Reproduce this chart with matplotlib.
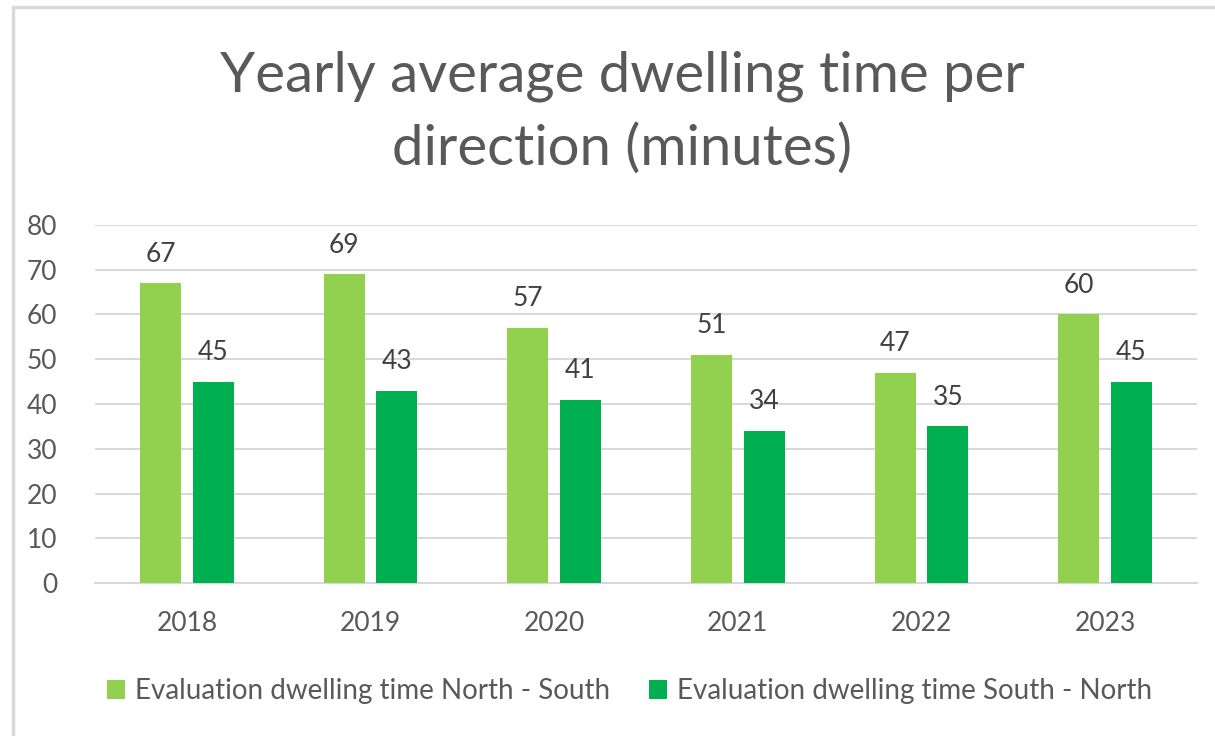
import matplotlib.pyplot as plt
import numpy as np
from matplotlib.patches import Rectangle

years = ['2018', '2019', '2020', '2021', '2022', '2023']
north_south = [67, 69, 57, 51, 47, 60]
south_north = [45, 43, 41, 34, 35, 45]
labels = ['Evaluation dwelling time North - South', 'Evaluation dwelling time South - North']
title_lines = ['Yearly average dwelling time per', 'direction (minutes)']

plt.rcParams['font.family'] = ['Lato', 'DejaVu Sans']
txt = '#595959'

fig = plt.figure(figsize=(12.15, 7.36), dpi=100)
ax = fig.add_axes([95/1215, 1 - 583/736, (1197 - 95)/1215, (583 - 225)/736])

x = np.arange(len(years))
w = 0.223
off = 0.143
b1 = ax.bar(x - off, north_south, w, color='#92D050', label=labels[0], zorder=3)
b2 = ax.bar(x + off, south_north, w, color='#00B050', label=labels[1], zorder=3)

for bars in (b1, b2):
    for r in bars:
        ax.annotate(f'{r.get_height():.0f}', (r.get_x() + r.get_width()/2, r.get_height()),
                    xytext=(0, 21), textcoords='offset points', ha='center', va='center',
                    fontsize=19, color='#404040')

ax.set_xlim(-0.5, 5.5)
ax.set_ylim(0, 80)
ax.set_yticks(range(0, 81, 10))
ax.set_xticks(x)
ax.set_xticklabels(years)
ax.grid(axis='y', color='#D9D9D9', lw=1.5, zorder=0)
ax.tick_params(length=0, labelsize=19, colors=txt)
ax.tick_params(axis='x', pad=20)
ax.tick_params(axis='y', pad=27)
for s in ['top', 'right', 'left']:
    ax.spines[s].set_visible(False)
ax.spines['bottom'].set_color('#D9D9D9')
ax.spines['bottom'].set_linewidth(1.5)

# title as two lines placed on their baselines
fig.text(0.512, 1 - 92/736, title_lines[0], ha='center', va='baseline', fontsize=40.5, color=txt)
fig.text(0.512, 1 - 165/736, title_lines[1], ha='center', va='baseline', fontsize=40.5, color=txt)

fig.legend(loc='center', bbox_to_anchor=(0.518, 1 - 691/736), ncol=2, frameon=False,
           fontsize=20, labelcolor=txt, handlelength=0.65, handleheight=0.65,
           handletextpad=0.35, columnspacing=1.4)

fig.patches.append(Rectangle((13/1215, -0.1), 1.2, 1 - 7/736 + 0.1, transform=fig.transFigure,
                             fill=False, edgecolor='#D9D9D9', lw=2.5))

fig.savefig('out.png', dpi=100)
